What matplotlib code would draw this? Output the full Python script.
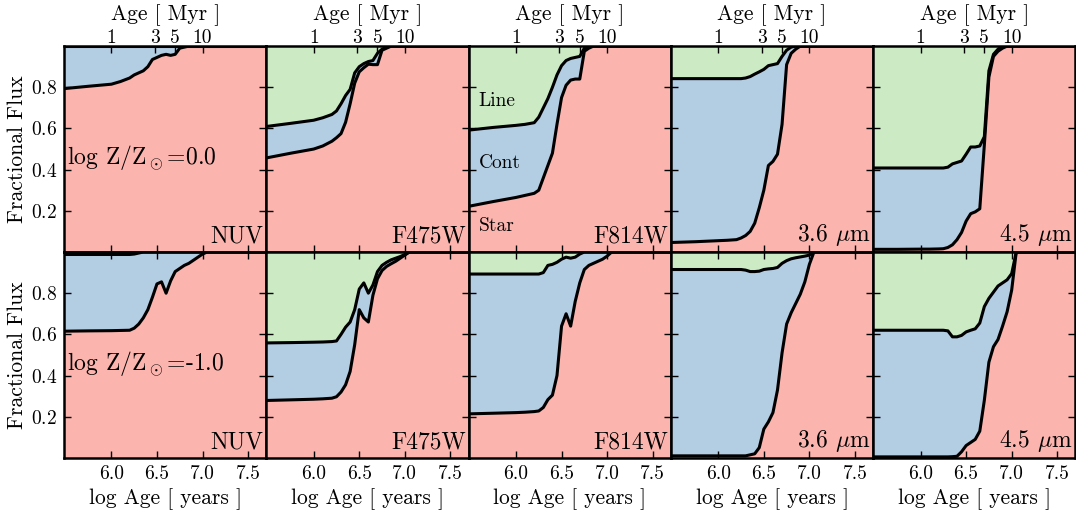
import numpy as np
import matplotlib
matplotlib.use('Agg')
import matplotlib.pyplot as plt

plt.rcParams['font.family'] = 'serif'
plt.rcParams['font.serif'] = ['cmr10', 'DejaVu Serif']
plt.rcParams['mathtext.fontset'] = 'cm'
plt.rcParams['axes.unicode_minus'] = False
plt.rcParams['axes.formatter.use_mathtext'] = True

# model age grid (log years)
logage = [5.4, 5.75, 6.0, 6.1, 6.2, 6.25, 6.3, 6.35, 6.4, 6.45, 6.5, 6.55,
          6.6, 6.65, 6.7, 6.75, 6.8, 6.85, 6.9, 6.95, 7.0, 7.05, 7.1, 7.8]

bands = ['NUV', 'F475W', 'F814W', r'3.6 $\mu$m', r'4.5 $\mu$m']
metals = ['0.0', '-1.0']

# solar metallicity: stellar fraction and stellar+continuum fraction
star_nuv_z0 = [0.79, 0.805, 0.815, 0.828, 0.845, 0.86, 0.87, 0.88, 0.90, 0.935, 0.945, 0.955,
               0.96, 0.955, 0.96, 0.99, 0.995, 1, 1, 1, 1, 1, 1, 1]
cont_nuv_z0 = [1, 1, 1, 1, 1, 1, 1, 1, 1, 1, 1, 1,
               1, 1, 1, 1, 1, 1, 1, 1, 1, 1, 1, 1]
star_f475_z0 = [0.45, 0.48, 0.50, 0.515, 0.538, 0.555, 0.575, 0.63, 0.72, 0.82, 0.875, 0.895,
                0.912, 0.91, 0.91, 0.98, 0.99, 1, 1, 1, 1, 1, 1, 1]
cont_f475_z0 = [0.605, 0.625, 0.64, 0.652, 0.668, 0.685, 0.72, 0.76, 0.79, 0.87, 0.90, 0.915,
                0.925, 0.93, 0.965, 0.985, 0.995, 1, 1, 1, 1, 1, 1, 1]
star_f814_z0 = [0.215, 0.245, 0.265, 0.275, 0.285, 0.30, 0.36, 0.42, 0.48, 0.62, 0.75, 0.81,
                0.835, 0.84, 0.84, 0.975, 0.99, 1, 1, 1, 1, 1, 1, 1]
cont_f814_z0 = [0.588, 0.605, 0.615, 0.62, 0.628, 0.655, 0.70, 0.745, 0.80, 0.86, 0.905, 0.93,
                0.94, 0.945, 0.95, 0.99, 1, 1, 1, 1, 1, 1, 1, 1]
star_i1_z0 = [0.045, 0.05, 0.055, 0.057, 0.06, 0.068, 0.08, 0.10, 0.14, 0.215, 0.30, 0.42,
              0.44, 0.475, 0.62, 0.91, 0.965, 0.985, 1, 1, 1, 1, 1, 1]
cont_i1_z0 = [0.842, 0.842, 0.842, 0.842, 0.842, 0.842, 0.845, 0.852, 0.864, 0.875, 0.887, 0.905,
              0.91, 0.915, 0.95, 0.98, 0.995, 1, 1, 1, 1, 1, 1, 1]
star_i2_z0 = [0.013, 0.013, 0.014, 0.014, 0.015, 0.016, 0.022, 0.035, 0.06, 0.095, 0.15, 0.186,
              0.195, 0.21, 0.52, 0.85, 0.95, 0.975, 0.99, 1, 1, 1, 1, 1]
cont_i2_z0 = [0.408, 0.408, 0.408, 0.408, 0.408, 0.408, 0.412, 0.428, 0.435, 0.442, 0.475, 0.51,
              0.51, 0.515, 0.56, 0.88, 0.96, 0.985, 1, 1, 1, 1, 1, 1]

# log Z/Zsun = -1
star_nuv_z1 = [0.615, 0.617, 0.618, 0.619, 0.62, 0.63, 0.65, 0.68, 0.72, 0.78, 0.845, 0.855,
               0.80, 0.86, 0.905, 0.92, 0.935, 0.945, 0.96, 0.975, 0.99, 1, 1, 1]
cont_nuv_z1 = [0.988, 0.988, 0.988, 0.988, 0.988, 0.99, 0.995, 1, 1, 1, 1, 1,
               1, 1, 1, 1, 1, 1, 1, 1, 1, 1, 1, 1]
star_f475_z1 = [0.278, 0.282, 0.285, 0.287, 0.29, 0.297, 0.32, 0.355, 0.42, 0.55, 0.72, 0.68,
                0.66, 0.79, 0.87, 0.91, 0.93, 0.943, 0.955, 0.97, 0.985, 1, 1, 1]
cont_f475_z1 = [0.558, 0.56, 0.562, 0.563, 0.565, 0.568, 0.60, 0.635, 0.66, 0.72, 0.82, 0.85,
                0.80, 0.84, 0.905, 0.935, 0.95, 0.962, 0.97, 0.978, 0.988, 1, 1, 1]
star_f814_z1 = [0.213, 0.217, 0.22, 0.222, 0.225, 0.228, 0.245, 0.283, 0.305, 0.40, 0.64, 0.70,
                0.64, 0.76, 0.85, 0.915, 0.935, 0.945, 0.955, 0.965, 0.98, 1, 1, 1]
cont_f814_z1 = [0.893, 0.893, 0.893, 0.893, 0.893, 0.893, 0.90, 0.935, 0.94, 0.95, 0.965, 0.975,
                0.97, 0.975, 0.99, 1, 1, 1, 1, 1, 1, 1, 1, 1]
star_i1_z1 = [0.01, 0.01, 0.01, 0.01, 0.01, 0.01, 0.01, 0.015, 0.02, 0.05, 0.14, 0.175,
              0.22, 0.33, 0.51, 0.65, 0.705, 0.75, 0.795, 0.855, 0.94, 1, 1, 1]
cont_i1_z1 = [0.915, 0.915, 0.915, 0.915, 0.915, 0.915, 0.912, 0.905, 0.905, 0.907, 0.915, 0.918,
              0.92, 0.925, 0.945, 0.958, 0.967, 0.972, 0.976, 0.98, 0.985, 1, 1, 1]
star_i2_z1 = [0.005, 0.005, 0.005, 0.005, 0.005, 0.005, 0.005, 0.006, 0.008, 0.03, 0.06, 0.075,
              0.09, 0.13, 0.28, 0.465, 0.54, 0.575, 0.64, 0.71, 0.815, 1, 1, 1]
cont_i2_z1 = [0.62, 0.62, 0.62, 0.62, 0.62, 0.62, 0.617, 0.588, 0.588, 0.595, 0.612, 0.62,
              0.627, 0.655, 0.735, 0.775, 0.805, 0.835, 0.85, 0.865, 0.895, 1, 1, 1]

star = [[star_nuv_z0, star_f475_z0, star_f814_z0, star_i1_z0, star_i2_z0],
        [star_nuv_z1, star_f475_z1, star_f814_z1, star_i1_z1, star_i2_z1]]
cont = [[cont_nuv_z0, cont_f475_z0, cont_f814_z0, cont_i1_z0, cont_i2_z0],
        [cont_nuv_z1, cont_f475_z1, cont_f814_z1, cont_i1_z1, cont_i2_z1]]

age_myr = [1, 3, 5, 10]

c_star = '#fbb4ae'
c_cont = '#b3cde3'
c_line = '#ccebc5'

fig, axes = plt.subplots(2, 5, figsize=(10.76, 5.18), dpi=100)
fig.subplots_adjust(left=0.0595, right=0.9995, top=0.911, bottom=0.116, wspace=0, hspace=0)

x = np.array(logage)
for i in range(2):
    for j in range(5):
        ax = axes[i, j]
        s = np.array(star[i][j])
        c = np.array(cont[i][j])
        ax.fill_between(x, 0, s, color=c_star, lw=0)
        ax.fill_between(x, s, c, color=c_cont, lw=0)
        ax.fill_between(x, c, 1, color=c_line, lw=0)
        ax.plot(x, s, color='k', lw=2.2)
        ax.plot(x, c, color='k', lw=2.2)
        ax.set_xlim(5.48, 7.7)
        ax.set_ylim(0, 1)
        ax.set_xticks([6.0, 6.5, 7.0, 7.5])
        ax.set_yticks([0.2, 0.4, 0.6, 0.8])
        ax.tick_params(direction='in', top=(i == 1), right=True, length=5, width=1,
                       labelsize=14, pad=5)
        for sp in ax.spines.values():
            sp.set_linewidth(1.8)
            sp.set_zorder(5)
        if j > 0:
            ax.set_yticklabels([])
        else:
            ax.set_ylabel('Fractional Flux', fontsize=15.5, labelpad=3)
        if i == 0:
            ax.set_xticklabels([])
            top = ax.twiny()
            top.set_xlim(ax.get_xlim())
            top.set_xticks(np.log10(np.array(age_myr) * 1e6))
            top.set_xticklabels([str(a) for a in age_myr])
            top.tick_params(direction='in', length=5, width=1, labelsize=14, pad=-1)
            top.set_xlabel('Age [ Myr ]', fontsize=15.5, labelpad=7)
            for sp in top.spines.values():
                sp.set_visible(False)
        else:
            ax.set_xticklabels(['6.0', '6.5', '7.0', '7.5'])
            ax.set_xlabel('log Age [ years ]', fontsize=15.5, labelpad=4)
        ax.text(0.985, 0.02, bands[j], transform=ax.transAxes, ha='right', va='bottom',
                fontsize=17, zorder=6)
    axes[i, 0].text(0.015, 0.46, r'log Z/Z$_\odot$=' + metals[i], transform=axes[i, 0].transAxes,
                    ha='left', va='center', fontsize=17)

ax = axes[0, 2]
ax.text(0.05, 0.735, 'Line', transform=ax.transAxes, ha='left', va='center', fontsize=14)
ax.text(0.05, 0.43, 'Cont', transform=ax.transAxes, ha='left', va='center', fontsize=14)
ax.text(0.05, 0.125, 'Star', transform=ax.transAxes, ha='left', va='center', fontsize=14)

fig.savefig('out.png', dpi=100)
